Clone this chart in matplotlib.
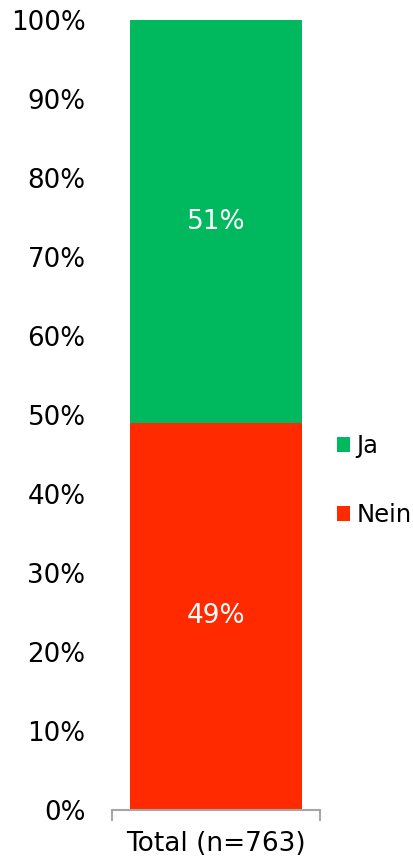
import matplotlib.pyplot as plt

categories = ['Total (n=763)']
nein = [49]
ja = [51]
series_names = ['Ja', 'Nein']
colors = {'Ja': '#00B95F', 'Nein': '#FF2A00'}

fig = plt.figure(figsize=(4.14, 8.61), dpi=100)
ax = fig.add_axes([0.2705, 0.0592, 0.5024, 0.9175])

x = list(range(len(categories)))
b_nein = ax.bar(x, nein, width=0.83, color=colors['Nein'], label='Nein')
b_ja = ax.bar(x, ja, width=0.83, bottom=nein, color=colors['Ja'], label='Ja')

for bars, vals, base in [(b_nein, nein, [0] * len(nein)), (b_ja, ja, nein)]:
    for rect, v, b in zip(bars, vals, base):
        ax.text(rect.get_x() + rect.get_width() / 2, b + v / 2, f'{v}%',
                ha='center', va='center', color='white', fontsize=19)

ax.set_xlim(-0.5, 0.5)
ax.set_ylim(0, 100)
ax.set_yticks(range(0, 101, 10))
ax.set_yticklabels([f'{t}%' for t in range(0, 101, 10)], fontsize=18.8)
ax.tick_params(axis='y', length=0, pad=19)

ax.set_xticks([-0.5, 0.5])
ax.set_xticklabels(['', ''])
ax.tick_params(axis='x', length=8, color='#A6A6A6', width=1.5, direction='out')
ax.text(0, -2.7, categories[0], ha='center', va='top', fontsize=19,
        transform=ax.transData)

for s in ['top', 'right', 'left']:
    ax.spines[s].set_visible(False)
ax.spines['bottom'].set_color('#A6A6A6')
ax.spines['bottom'].set_linewidth(1.5)

handles, labels = ax.get_legend_handles_labels()
ax.legend(handles[::-1], labels[::-1], loc='center left', bbox_to_anchor=(1.034, 0.417),
          frameon=False, fontsize=17.5, handlelength=0.55, handleheight=0.55,
          handletextpad=0.25, labelspacing=1.85, borderaxespad=0.2,
          borderpad=0.2)

fig.savefig('out.png', dpi=100)
